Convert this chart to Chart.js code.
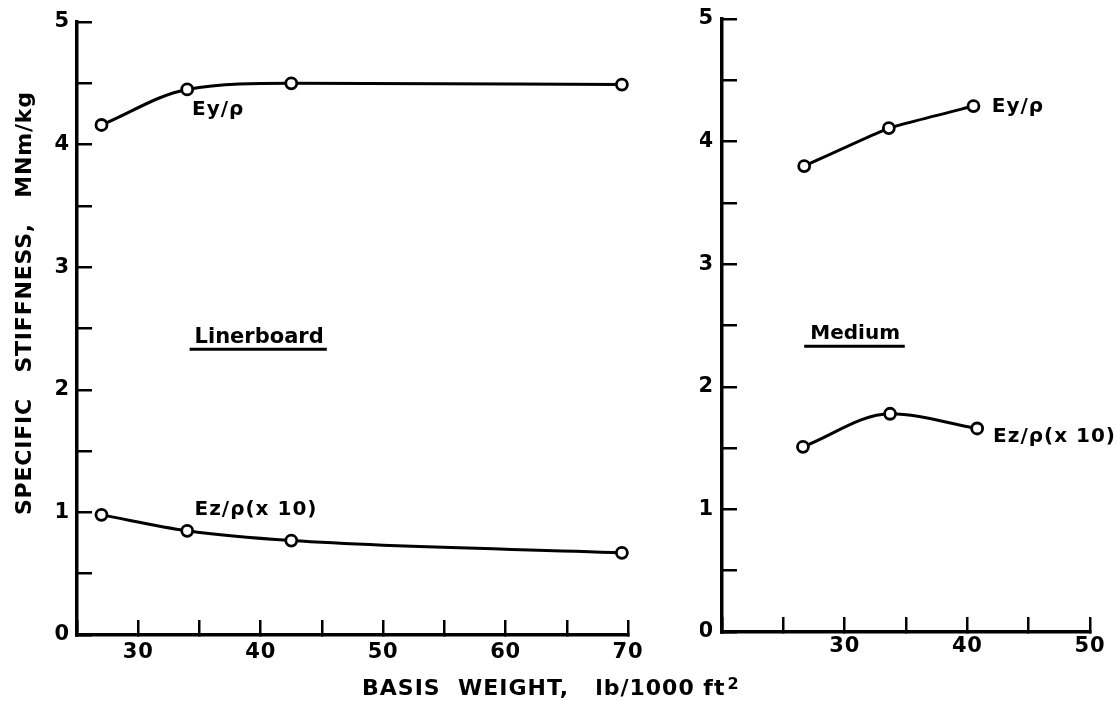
<!DOCTYPE html>
<html>
<head>
<meta charset="utf-8">
<script src="https://cdn.jsdelivr.net/npm/chart.js@4.4.1/dist/chart.umd.min.js"></script>
<style>
  html, body { margin: 0; padding: 0; background: #fff; }
  #wrap { position: relative; width: 1117px; height: 701px; background: #fff; overflow: hidden; }
  #left { position: absolute; left: 0; top: 0; width: 700px; height: 701px; }
  #right { position: absolute; left: 700px; top: 0; width: 417px; height: 701px; }
  #xtitle { position: absolute; left: 362px; top: 675px; font-family: "DejaVu Sans"; font-weight: bold;
            font-size: 22px; line-height: 26px; letter-spacing: 1px; white-space: pre; color: #000; }
  #xtitle sup { font-size: 16px; position: relative; top: -4px; vertical-align: top; margin-left: 2px; }
</style>
</head>
<body>
<div id="wrap">
  <div id="left"><canvas id="c1"></canvas></div>
  <div id="right"><canvas id="c2"></canvas></div>
  <div id="xtitle">BASIS  WEIGHT,   lb/1000 ft<sup>2</sup></div>
</div>
<script>
// ---- data ----
const linerWeight = [27, 34, 42.5, 69.5];          // lb/1000 ft2
const linerEy = [4.16, 4.45, 4.50, 4.49];          // Ey/rho, MNm/kg
const linerEz = [0.98, 0.85, 0.77, 0.67];          // Ez/rho (x10)
const mediumWeightEy = [26.7, 33.6, 40.5];
const mediumEy = [3.80, 4.11, 4.29];
const mediumWeightEz = [26.6, 33.7, 40.8];
const mediumEz = [1.51, 1.78, 1.66];

const yTickLabels = [0, 1, 2, 3, 4, 5];
const linerXTickLabels = [30, 40, 50, 60, 70];
const mediumXTickLabels = [30, 40, 50];

const yTitle = 'SPECIFIC   STIFFNESS,   MNm/kg';

// annotation texts (positions in data units)
const linerNotes = [
  { text: 'Ey/ρ', x: 34.4, y: 4.24 },
  { text: 'Ez/ρ(x 10)', x: 34.6, y: 0.98 },
  { text: 'Linerboard', x: 34.6, y: 2.38, size: 21, ls: 0, underline: [34.2, 45.4, 2.33] }
];
const mediumNotes = [
  { text: 'Ey/ρ', x: 42.0, y: 4.24 },
  { text: 'Ez/ρ(x 10)', x: 42.1, y: 1.55 },
  { text: 'Medium', x: 27.2, y: 2.39, ls: 0, underline: [26.7, 34.9, 2.33] }
];

// ---- helpers ----
const FONT = 'DejaVu Sans';
const pts = (xs, ys) => xs.map((x, i) => ({ x: x, y: ys[i] }));

const spacingPlugin = {
  id: 'spacing',
  beforeUpdate(chart) { chart.ctx.letterSpacing = '0.8px'; },
  beforeDraw(chart) { chart.ctx.letterSpacing = '0.8px'; }
};

const notesPlugin = {
  id: 'notes',
  afterDatasetsDraw(chart, args, opts) {
    const ctx = chart.ctx, xs = chart.scales.x, ys = chart.scales.y;
    ctx.save();
    ctx.fillStyle = '#000';
    ctx.strokeStyle = '#000';
    for (const n of opts.items) {
      ctx.font = 'bold ' + (n.size || 20) + 'px "' + FONT + '"';
      ctx.letterSpacing = (n.ls != null ? n.ls : 1) + 'px';
      ctx.textAlign = 'left';
      ctx.textBaseline = 'alphabetic';
      ctx.fillText(n.text, xs.getPixelForValue(n.x), ys.getPixelForValue(n.y));
      if (n.underline) {
        ctx.lineWidth = 3;
        ctx.beginPath();
        ctx.moveTo(xs.getPixelForValue(n.underline[0]), ys.getPixelForValue(n.underline[2]));
        ctx.lineTo(xs.getPixelForValue(n.underline[1]), ys.getPixelForValue(n.underline[2]));
        ctx.stroke();
      }
    }
    ctx.restore();
  }
};

function lineDs(data, mode, tension) {
  return {
    data: data,
    showLine: true,
    borderColor: '#000',
    borderWidth: 3,
    cubicInterpolationMode: mode,
    tension: tension,
    pointRadius: 5.5,
    pointBorderWidth: 2.8,
    pointBorderColor: '#000',
    pointBackgroundColor: '#fff',
    clip: false
  };
}

function axisGrid() {
  return { drawOnChartArea: false, drawTicks: true, tickLength: -15, tickWidth: 2.5,
           tickColor: '#000', lineWidth: 2.5, color: '#000' };
}

function makeOptions(cfg) {
  return {
    responsive: true,
    maintainAspectRatio: false,
    animation: false,
    devicePixelRatio: 1,
    layout: { padding: cfg.padding },
    plugins: {
      legend: { display: false },
      tooltip: { enabled: false },
      notes: { items: cfg.notes }
    },
    scales: {
      x: {
        type: 'linear', position: 'bottom', min: cfg.xmin, max: cfg.xmax,
        afterFit(s) { s.height = cfg.xHeight; s.paddingLeft = 0; s.paddingRight = 0; },
        grid: axisGrid(),
        border: { display: true, color: '#000', width: 3.5 },
        ticks: {
          stepSize: 5, autoSkip: false, maxRotation: 0, padding: cfg.xPad, color: '#000',
          font: { family: FONT, size: 21, weight: 'bold' },
          callback: (v) => cfg.xLabels.includes(v) ? String(v) : ''
        }
      },
      y: {
        type: 'linear', position: 'left', min: 0, max: 5,
        afterFit(s) { s.width = cfg.yWidth; s.paddingTop = 0; s.paddingBottom = 0; },
        grid: axisGrid(),
        border: { display: true, color: '#000', width: 3.5 },
        title: cfg.yTitle ? {
          display: true, text: cfg.yTitle, color: '#000',
          font: { family: FONT, size: 22, weight: 'bold' }, padding: { top: 12, bottom: 0 }
        } : { display: false },
        ticks: {
          stepSize: 0.5, autoSkip: false, padding: cfg.yPad, color: '#000',
          font: { family: FONT, size: 21, weight: 'bold' },
          callback: (v) => yTickLabels.includes(v) ? String(v) : ''
        }
      }
    }
  };
}

new Chart(document.getElementById('c1'), {
  type: 'scatter',
  data: { datasets: [
    lineDs(pts(linerWeight, linerEy), 'monotone', 0.4),
    lineDs(pts(linerWeight, linerEz), 'monotone', 0.4)
  ] },
  options: makeOptions({
    padding: { top: 22, right: 72, left: 0, bottom: 0 },
    xmin: 25, xmax: 70, xHeight: 66, yWidth: 77, yPad: 22, xPad: 20,
    xLabels: linerXTickLabels, notes: linerNotes,
    yTitle: '      ' + yTitle
  }),
  plugins: [spacingPlugin, notesPlugin]
});

new Chart(document.getElementById('c2'), {
  type: 'scatter',
  data: { datasets: [
    lineDs(pts(mediumWeightEy, mediumEy), 'default', 0.1),
    lineDs(pts(mediumWeightEz, mediumEz), 'monotone', 0.4)
  ] },
  options: makeOptions({
    padding: { top: 19, right: 27, left: 0, bottom: 0 },
    xmin: 20, xmax: 50, xHeight: 69, yWidth: 22, yPad: 23, xPad: 17,
    xLabels: mediumXTickLabels, notes: mediumNotes,
    yTitle: null
  }),
  plugins: [spacingPlugin, notesPlugin]
});
</script>
</body>
</html>
